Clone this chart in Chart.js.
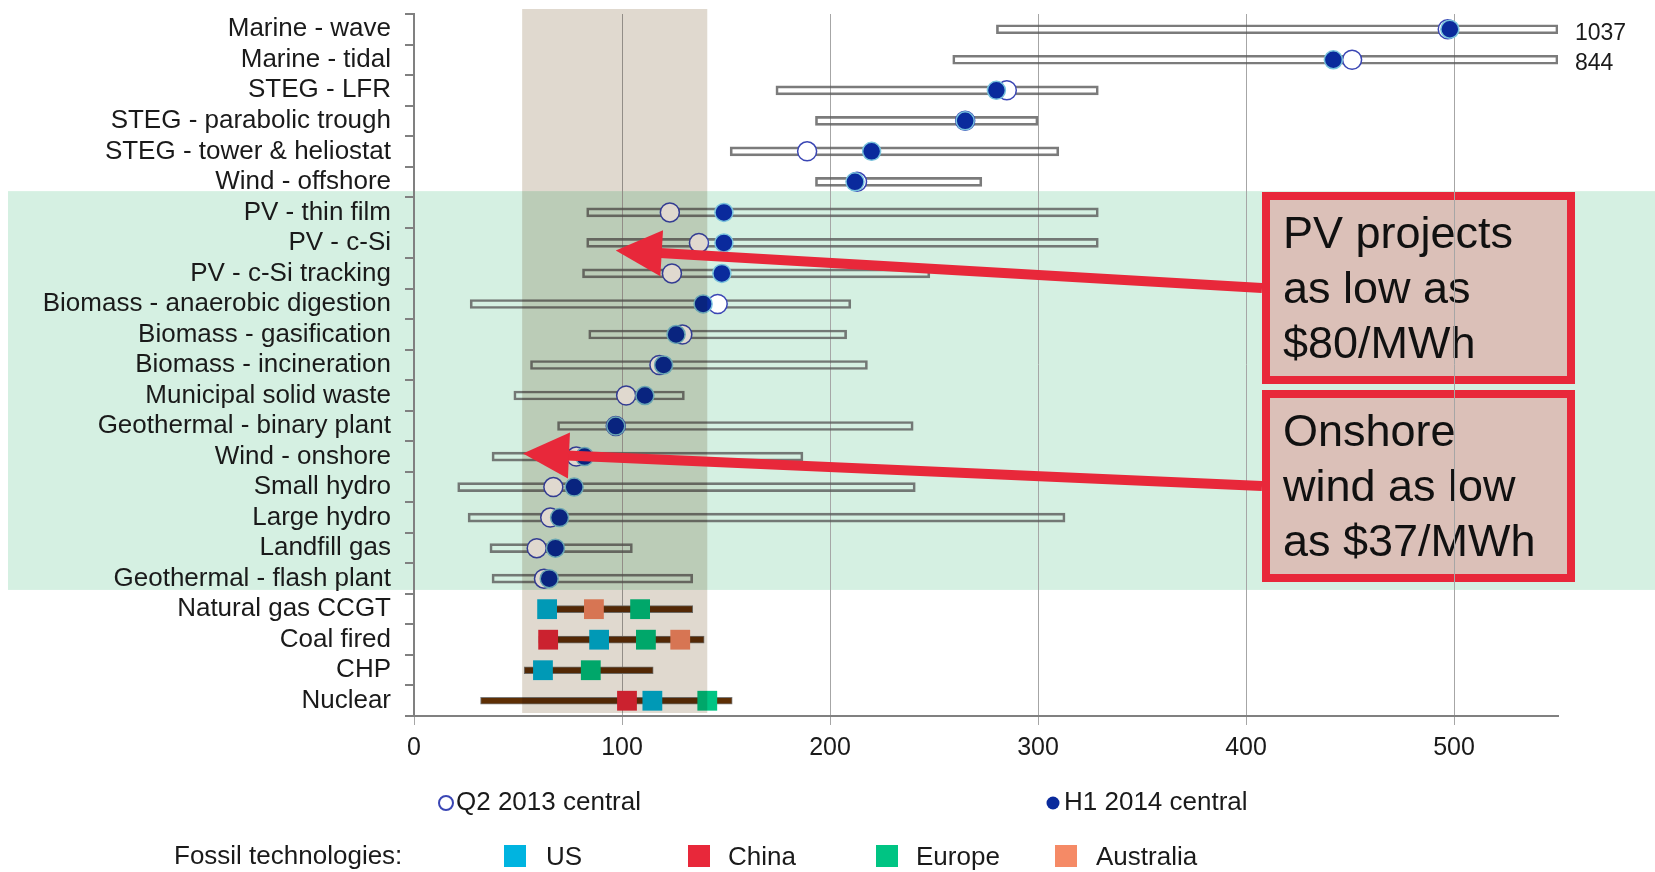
<!DOCTYPE html>
<html>
<head>
<meta charset="utf-8">
<title>LCOE ranges</title>
<script src="https://cdn.jsdelivr.net/npm/chart.js@4.4.0/dist/chart.umd.min.js"></script>
<style>
html,body{margin:0;padding:0;background:#fff;}
#wrap{width:1655px;height:872px;}
</style>
</head>
<body>
<div id="wrap"><canvas id="lcoeChart" width="1655" height="872"></canvas></div>
<script>
/* ===============================
   DATA ($/MWh)
================================= */
const categories=['Marine - wave','Marine - tidal','STEG - LFR','STEG - parabolic trough','STEG - tower & heliostat','Wind - offshore',
    'PV - thin film','PV - c-Si','PV - c-Si tracking','Biomass - anaerobic digestion','Biomass - gasification','Biomass - incineration',
    'Municipal solid waste','Geothermal - binary plant','Wind - onshore','Small hydro','Large hydro','Landfill gas','Geothermal - flash plant',
    'Natural gas CCGT','Coal fired','CHP','Nuclear'];
const rangeLow =[280,259,174,193,152,193, 83, 83, 81, 27, 84, 56, 48, 69,37.5, 21, 26,36.5,37.5, 60, 60, 53, 32];
const rangeHigh=[1037,844,329,300,310,273,329,329,248,210,208,218,130,240,187,241,313,105,134, 134,139.5,115,153];
const q2_2013=[497,451,285,265,189,213,123,137,124,146,129,118,102, 97, 78, 67,65.5, 59,62.5, null,null,null,null];
const h1_2014=[498,442,280,265,220,212,149,149,148,139,126,120,111, 97, 82, 77, 70, 68, 65, null,null,null,null];
const fossilUS       =[...Array(19).fill(null), 64, 89, 62,114.6];
const fossilChina    =[...Array(19).fill(null),null,64.5,null,102.4];
const fossilEurope   =[...Array(19).fill(null),108.7,111.5,85,141];
const fossilAustralia=[...Array(19).fill(null),86.5,128,null,null];
const xTicks=[0,100,200,300,400,500];
const X_MAX=550;
const fossilBand=[52,141];

const FONT='"Liberation Sans", Arial, sans-serif';
const RED='#e8283a';
const fossilStart=categories.indexOf('Natural gas CCGT');
const greenStart=categories.indexOf('PV - thin film');

// bars are cut at the axis end, the real top is written beside them
const renewRange=categories.map((c,i)=>i<fossilStart?[rangeLow[i],Math.min(rangeHigh[i],X_MAX)]:null);
const fossilRange=categories.map((c,i)=>i>=fossilStart?[rangeLow[i],rangeHigh[i]]:null);

const callouts=[
    {x:1262,y:192,w:313,h:192,lines:['PV projects','as low as','$80/MWh'],tip:[97,7.25]},
    {x:1262,y:390,w:313,h:192,lines:['Onshore','wind as low','as $37/MWh'],tip:[52.4,13.9]}
];

/* ===============================
   DECORATION PLUGIN
================================= */
const decor={
    id:'decor',
    beforeDraw(chart){
        const {ctx,scales:{y}}=chart;
        ctx.save();
        const gTop=y.getPixelForValue(greenStart-0.5)-6, gBot=y.getPixelForValue(fossilStart-0.5)-4;
        ctx.fillStyle='#d5f0e2';
        ctx.fillRect(8,gTop,chart.width-8,gBot-gTop);
        callouts.forEach(c=>{
            ctx.fillStyle='#dbc0b8';
            ctx.fillRect(c.x,c.y,c.w,c.h);
            ctx.strokeStyle=RED;ctx.lineWidth=8;
            ctx.strokeRect(c.x+4,c.y+4,c.w-8,c.h-8);
            ctx.fillStyle='#111';
            ctx.font='45px '+FONT;ctx.textBaseline='alphabetic';ctx.textAlign='left';
            c.lines.forEach((t,i)=>ctx.fillText(t,c.x+21,c.y+56+i*55));
        });
        ctx.restore();
    },
    afterDatasetsDraw(chart){
        const {ctx,chartArea:a,scales:{x,y}}=chart;
        ctx.save();
        // shaded fossil band, multiplied over marks
        ctx.globalCompositeOperation='multiply';
        ctx.fillStyle='#e0d9cf';
        const bl=x.getPixelForValue(fossilBand[0]), br=x.getPixelForValue(fossilBand[1]);
        ctx.fillRect(bl,a.top-5,br-bl,a.bottom-a.top+2);
        ctx.globalCompositeOperation='source-over';
        // arrows
        ctx.fillStyle=RED;ctx.strokeStyle=RED;
        callouts.forEach(c=>{
            const tx=x.getPixelForValue(c.tip[0]), ty=y.getPixelForValue(c.tip[1]);
            const sx=c.x, sy=c.y+c.h/2;
            const ang=Math.atan2(ty-sy,tx-sx), hl=46, hw=23;
            const bx=tx-hl*Math.cos(ang), by=ty-hl*Math.sin(ang);
            ctx.lineWidth=10;
            ctx.beginPath();ctx.moveTo(sx,sy);ctx.lineTo(bx+2*Math.cos(ang),by+2*Math.sin(ang));ctx.stroke();
            ctx.beginPath();ctx.moveTo(tx,ty);
            ctx.lineTo(bx+hw*Math.sin(ang),by-hw*Math.cos(ang));
            ctx.lineTo(bx-hw*Math.sin(ang),by+hw*Math.cos(ang));
            ctx.closePath();ctx.fill();
        });
        // values beyond the axis
        ctx.fillStyle='#1a1a1a';ctx.font='23px '+FONT;ctx.textBaseline='middle';ctx.textAlign='left';
        rangeHigh.forEach((v,i)=>{ if(v>X_MAX) ctx.fillText(String(v),a.right+17,y.getPixelForValue(i)+4); });
        ctx.restore();
    },
    afterDraw(chart){
        const {ctx}=chart;
        const ds=chart.data.datasets;
        ctx.save();
        ctx.font='26px '+FONT;ctx.textBaseline='middle';ctx.textAlign='left';
        // central estimate legend
        ctx.lineWidth=2;ctx.strokeStyle=ds[1].pointBorderColor;ctx.fillStyle='#fff';
        ctx.beginPath();ctx.arc(446,803,7,0,Math.PI*2);ctx.fill();ctx.stroke();
        ctx.fillStyle=ds[0].pointBackgroundColor;
        ctx.beginPath();ctx.arc(1053,803,6.5,0,Math.PI*2);ctx.fill();
        ctx.fillStyle='#1a1a1a';
        ctx.fillText(ds[1].label,456,803);
        ctx.fillText(ds[0].label,1064,803);
        // fossil legend
        ctx.fillText('Fossil technologies:',174,857);
        const keys=[[2,504,546],[3,688,728],[4,876,916],[5,1055,1096]];
        keys.forEach(([k,sx,tx])=>{
            ctx.fillStyle=ds[k].legendColor;
            ctx.fillRect(sx,845,22,22);
            ctx.fillStyle='#1a1a1a';
            ctx.fillText(ds[k].label,tx,858);
        });
        ctx.restore();
    }
};

/* ===============================
   CHART
================================= */
const square=(label,data,color,legendColor)=>({
    type:'line',label,data,legendColor,indexAxis:'y',showLine:false,
    pointStyle:'rect',pointRadius:14,pointHoverRadius:14,pointBorderWidth:0,
    pointBackgroundColor:legendColor,pointBorderColor:legendColor,order:0
});

new Chart(document.getElementById('lcoeChart'),{
    type:'bar',
    data:{
        labels:categories,
        datasets:[
            {type:'line',label:'H1 2014 central',data:h1_2014,indexAxis:'y',showLine:false,
             pointRadius:9,pointHoverRadius:9,pointBackgroundColor:'#0a2a9c',pointBorderColor:'#78c2dc',pointBorderWidth:1.5,order:0},
            {type:'line',label:'Q2 2013 central',data:q2_2013,indexAxis:'y',showLine:false,
             pointRadius:9.5,pointHoverRadius:9.5,pointBackgroundColor:'#ffffff',pointBorderColor:'#3a46b4',pointBorderWidth:1.5,order:1},
            square('US',fossilUS,'#15a3c2','#00b4e0'),
            square('China',fossilChina,'#d42a32','#e8283a'),
            square('Europe',fossilEurope,'#17a877','#00c483'),
            square('Australia',fossilAustralia,'#e07a55','#f58a66'),
            {type:'bar',label:'Range',data:renewRange,indexAxis:'y',barThickness:9,grouped:false,borderSkipped:false,
             backgroundColor:'rgba(0,0,0,0)',borderColor:'rgba(90,90,90,0.8)',borderWidth:2,order:3},
            {type:'bar',label:'Fossil range',data:fossilRange,indexAxis:'y',barThickness:7,grouped:false,borderSkipped:false,
             backgroundColor:'#5e2f05',borderColor:'#7a7a7a',borderWidth:1,order:3}
        ]
    },
    options:{
        indexAxis:'y',
        responsive:false,
        animation:false,
        layout:{padding:{top:10,right:97,bottom:0,left:0}},
        plugins:{legend:{display:false},tooltip:{enabled:false}},
        scales:{
            x:{
                type:'linear',min:0,max:X_MAX,
                afterBuildTicks(s){ s.ticks=xTicks.map(v=>({value:v})); },
                afterFit(s){ s.height=156; s.paddingLeft=0; s.paddingRight=0; },
                grid:{color:'#a6a6a6',lineWidth:1,tickLength:9,drawTicks:true},
                border:{color:'#808080',width:2},
                ticks:{font:{family:FONT,size:25},color:'#1a1a1a',padding:8}
            },
            y:{
                type:'category',offset:true,
                afterFit(s){ s.width=414; s.paddingTop=0; s.paddingBottom=0; },
                grid:{offset:true,drawOnChartArea:false,drawTicks:true,tickLength:9,color:'#808080',lineWidth:2},
                border:{color:'#808080',width:2},
                ticks:{font:{family:FONT,size:26},color:'#1a1a1a',padding:14,autoSkip:false}
            }
        }
    },
    plugins:[decor]
});
</script>
</body>
</html>
